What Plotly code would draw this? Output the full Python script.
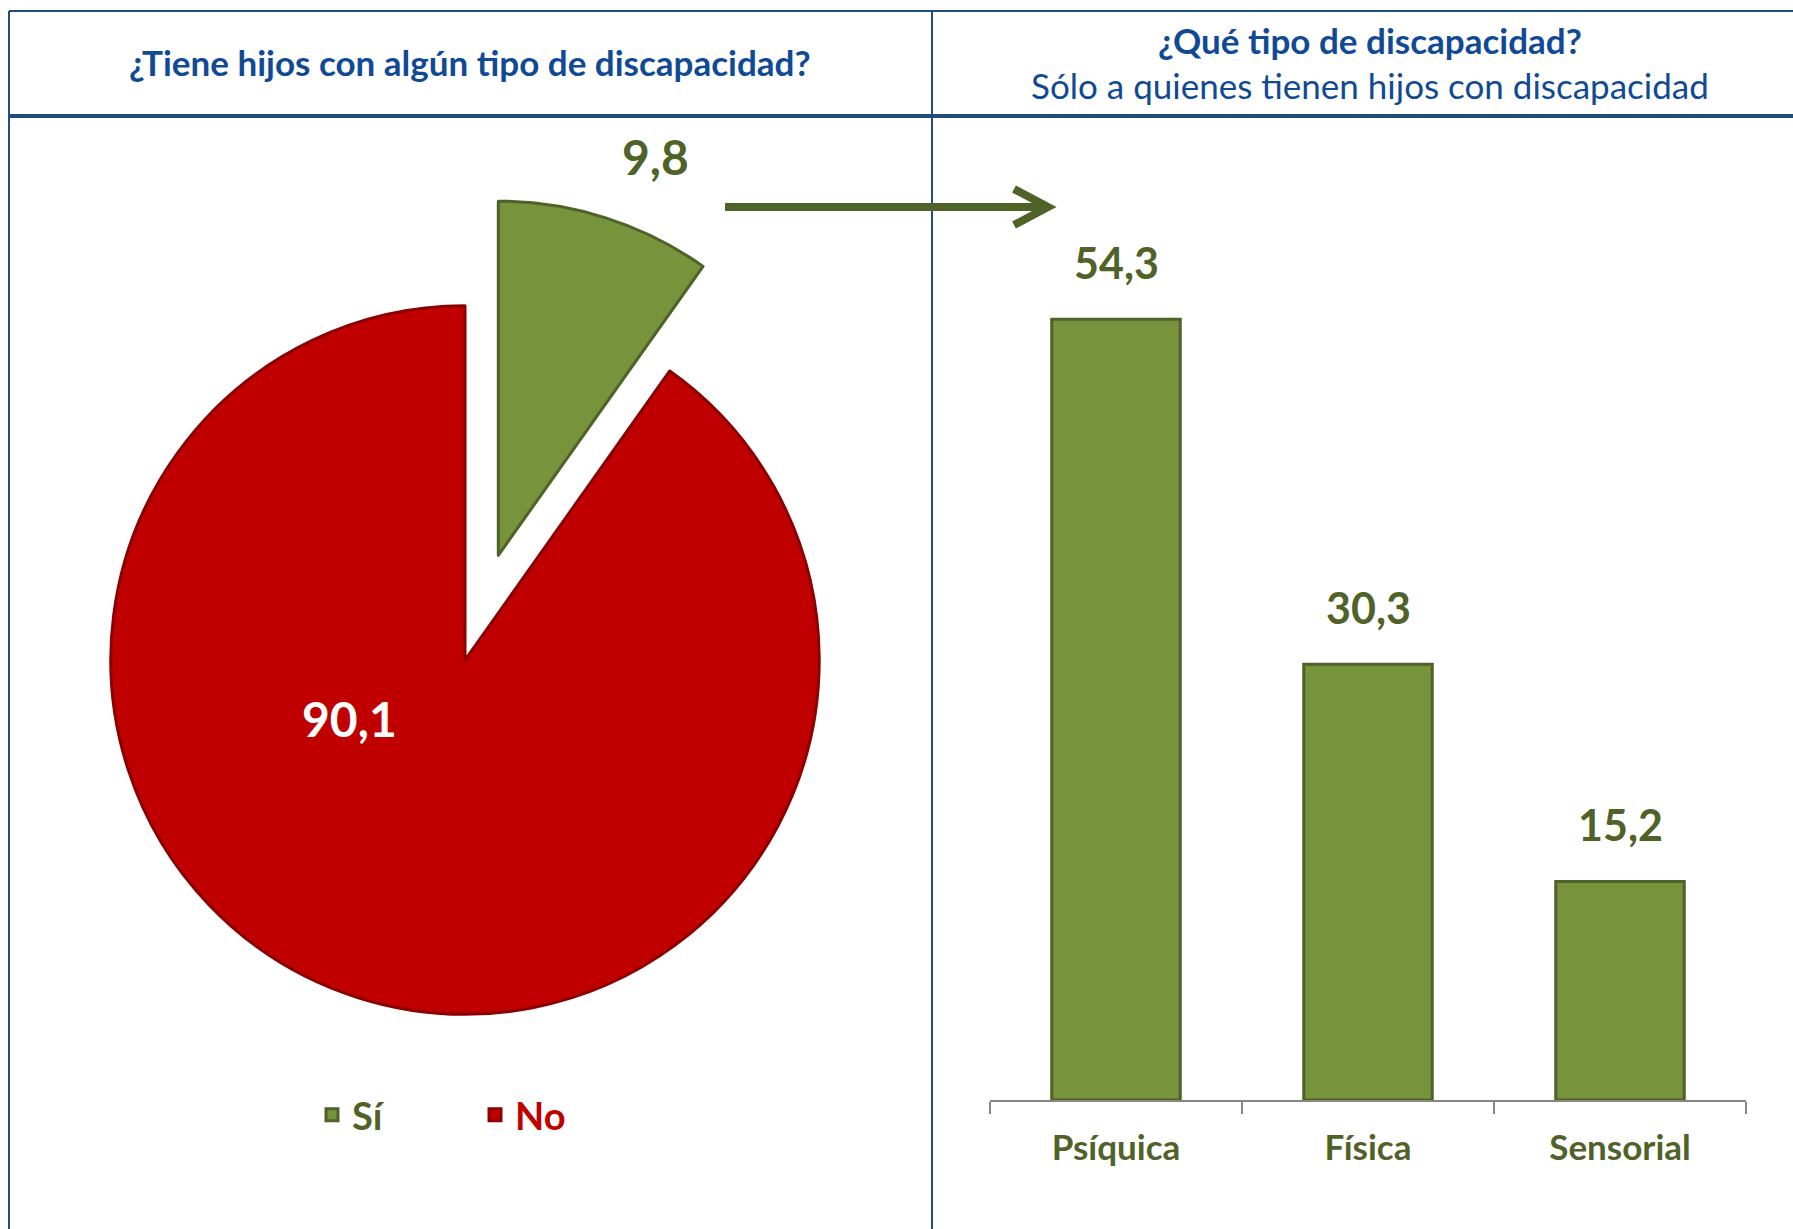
import plotly.graph_objects as go

# ---- data ----
pie_labels = ["Sí", "No"]
pie_values = [9.8, 90.1]
bar_categories = ["Psíquica", "Física", "Sensorial"]
bar_values = [54.3, 30.3, 15.2]
title_left = "¿Tiene hijos con algún tipo de discapacidad?"
title_right = "¿Qué tipo de discapacidad?"
subtitle_right = "Sólo a quienes tienen hijos con discapacidad"

# ---- styling ----
W, H = 1793, 1229
GREEN = "#77933C"
GREEN_DARK = "#4F6228"
RED = "#C00000"
RED_DARK = "#8B0000"
BLUE = "#114A94"
LINE_BLUE = "#1F4E79"
FONT = "Lato"


def px(x):
    return x / W


def py(y):
    return 1 - y / H


def fmt(v):
    return f"{v:.1f}".replace(".", ",")


fig = go.Figure()

legend_colors = [GREEN_DARK, RED]
pie_cx, pie_cy, pie_half = 465, 660, 464
fig.add_trace(go.Pie(
    labels=[f"<span style='color:{c}'>{l}</span>" for l, c in zip(pie_labels, legend_colors)],
    values=pie_values,
    sort=False,
    direction="clockwise",
    rotation=0,
    pull=[0.31, 0],
    marker=dict(colors=[GREEN, RED], line=dict(color=[GREEN_DARK, RED_DARK], width=3)),
    textinfo="none",
    domain=dict(x=[px(pie_cx - pie_half), px(pie_cx + pie_half)],
                y=[py(pie_cy + pie_half), py(pie_cy - pie_half)]),
    showlegend=True,
))

fig.add_trace(go.Bar(
    x=bar_categories,
    y=bar_values,
    width=0.51,
    marker=dict(color=GREEN, line=dict(color=GREEN_DARK, width=3)),
    showlegend=False,
))


def ann(x, y, text, size, color, weight="bold"):
    return dict(x=px(x), y=py(y), xref="paper", yref="paper", text=text, showarrow=False,
                xanchor="center", yanchor="middle",
                font=dict(family=FONT, size=size, color=color, weight=weight))


annotations = []
# pie value labels
annotations.append(ann(655, 157, fmt(pie_values[0]), 48, GREEN_DARK))
annotations.append(ann(349, 718, fmt(pie_values[1]), 48, "white"))
# bar value labels
for c, v in zip(bar_categories, bar_values):
    annotations.append(dict(x=c, y=v, xref="x", yref="y", text=fmt(v), showarrow=False, yshift=57,
                            xanchor="center", yanchor="middle",
                            font=dict(family=FONT, size=43, color=GREEN_DARK, weight="bold")))
# headers
annotations.append(ann(470, 62, title_left, 35, BLUE))
annotations.append(ann(1370, 40, title_right, 35, BLUE))
annotations.append(ann(1370, 85, subtitle_right, 35, BLUE, weight="normal"))

shapes = []
# frame lines
shapes.append(dict(type="line", xref="paper", yref="paper", x0=px(9), x1=px(W), y0=py(11), y1=py(11),
                   line=dict(color=LINE_BLUE, width=2)))
shapes.append(dict(type="line", xref="paper", yref="paper", x0=px(9), x1=px(W), y0=py(116), y1=py(116),
                   line=dict(color=LINE_BLUE, width=4)))
for xv in (9, 932):
    shapes.append(dict(type="line", xref="paper", yref="paper", x0=px(xv), x1=px(xv), y0=py(11), y1=py(H),
                       line=dict(color=LINE_BLUE, width=2)))
# arrow
shapes.append(dict(type="line", xref="paper", yref="paper", x0=px(725), x1=px(1044), y0=py(207), y1=py(207),
                   line=dict(color=GREEN_DARK, width=8)))
shapes.append(dict(type="path", xref="paper", yref="paper",
                   path=f"M {px(1014)},{py(189)} L {px(1048)},{py(207)} L {px(1014)},{py(225)}",
                   line=dict(color=GREEN_DARK, width=8)))

px_per_unit = 14.38
y_top_range = 60
fig.update_layout(
    width=W, height=H,
    margin=dict(l=0, r=0, t=0, b=0),
    paper_bgcolor="white", plot_bgcolor="white",
    separators=",.",
    annotations=annotations,
    shapes=shapes,
    xaxis=dict(domain=[px(990), px(1746)], range=[-0.5, 2.5], anchor="y",
               showline=True, linecolor="#868686", linewidth=2,
               ticks="outside", tickson="boundaries", ticklen=12, tickcolor="#868686", tickwidth=2,
               ticklabelstandoff=16,
               tickfont=dict(family=FONT, size=35, color=GREEN_DARK, weight="bold"),
               showgrid=False, zeroline=False),
    yaxis=dict(domain=[py(1100), py(1100 - y_top_range * px_per_unit)], range=[0, y_top_range],
               visible=False, showgrid=False),
    legend=dict(orientation="h", x=px(312), xanchor="left", y=py(1115), yanchor="middle",
                font=dict(family=FONT, size=38, weight="bold"),
                entrywidth=118, entrywidthmode="pixels", bgcolor="rgba(0,0,0,0)"),
    font=dict(family=FONT),
)

fig.write_html("out.html", config={"displayModeBar": False},
               post_script="document.body.style.margin='0';")
